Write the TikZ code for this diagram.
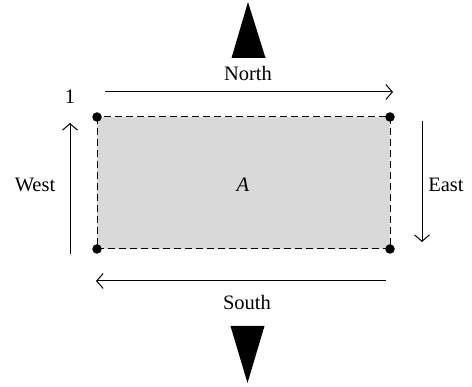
\documentclass[tikz,border=0pt]{standalone}
\usepackage{fontspec}
\setmainfont{Liberation Serif}
\usetikzlibrary{arrows.meta}
\begin{document}
\begin{tikzpicture}[x=1pt,y=-1pt,
  lbl/.style={inner sep=0pt,font=\fontsize{20.5}{24}\selectfont},
  dir/.style={line width=1pt,-{Straight Barb[length=6.5pt,width=15pt,line width=1pt]}},
  corner/.style={circle,fill=black,inner sep=0pt,minimum size=9.5pt},
  pointer/.style={fill=black}]
  \useasboundingbox (0,0) rectangle (472,387);
  % shaded region with dashed border
  \draw[fill={rgb,255:red,217;green,217;blue,217},line width=1pt,dash pattern=on 7pt off 4pt]
    (97,117) rectangle (390,249);
  \node[corner] (nw) at (97,117) {};
  \node[corner] (ne) at (390,117) {};
  \node[corner] (sw) at (97,249) {};
  \node[corner] (se) at (390,249) {};
  \node[lbl] (a) at (243,185) {\itshape A};
  % direction arrows round the region
  \coordinate (n1) at (105,92);  \coordinate (n2) at (393,92);
  \coordinate (e1) at (422,121); \coordinate (e2) at (422,242);
  \coordinate (s1) at (386,281); \coordinate (s2) at (96,281);
  \coordinate (w1) at (70,254);  \coordinate (w2) at (70,123);
  \draw[dir] (n1) -- (n2);
  \draw[dir] (e1) -- (e2);
  \draw[dir] (s1) -- (s2);
  \draw[dir] (w1) -- (w2);
  \node[lbl] (north) at (248,73) {North};
  \node[lbl] (south) at (247,302) {South};
  \node[lbl] (west) at (35,185) {West};
  \node[lbl] (east) at (446,185) {East};
  \node[lbl] (one) at (70,97) {1};
  % pointers above and below
  \fill[pointer] (248,2) -- (265.5,58) -- (231.5,58) -- cycle;
  \fill[pointer] (230.5,326) -- (264.5,326) -- (247.5,383) -- cycle;
\end{tikzpicture}
\end{document}
